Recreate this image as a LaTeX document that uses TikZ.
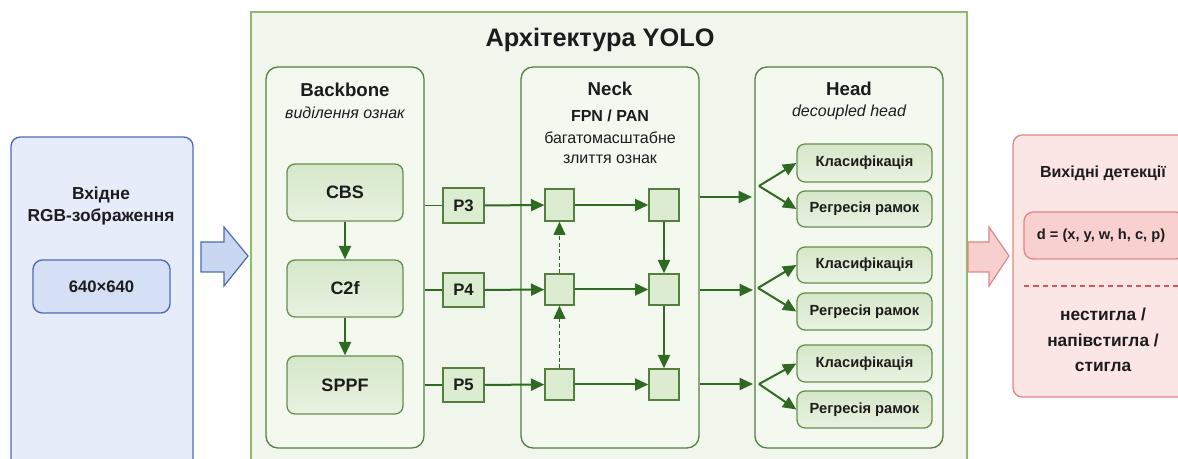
\documentclass[tikz,border=0pt]{standalone}
\usepackage{fontspec}
\setmainfont{Liberation Sans}
\usetikzlibrary{arrows.meta,fit}
\definecolor{yolofill}{HTML}{F0F6EB}
\definecolor{yololine}{HTML}{8DBA6E}
\definecolor{panelfill}{HTML}{F4F9F0}
\definecolor{panelline}{HTML}{557F3E}
\definecolor{nodetop}{HTML}{D6E7C9}
\definecolor{nodebot}{HTML}{E8F2E1}
\definecolor{nodeline}{HTML}{678F50}
\definecolor{sqfill}{HTML}{DCECD0}
\definecolor{arrcol}{HTML}{2F6A22}
\definecolor{bluefill}{HTML}{E6ECF9}
\definecolor{blueline}{HTML}{4C6DB3}
\definecolor{blueinner}{HTML}{D5DFF5}
\definecolor{bluearrow}{HTML}{C9D7F1}
\definecolor{redfill}{HTML}{FCE5E5}
\definecolor{redline}{HTML}{DE8787}
\definecolor{redinner}{HTML}{F9D0D0}
\definecolor{redarrow}{HTML}{F8CFCF}
\definecolor{reddash}{HTML}{D65555}
\definecolor{txt}{HTML}{1C1C1C}
\begin{document}
\begin{tikzpicture}[x=0.75pt,y=-0.75pt,
  every node/.style={text=txt},
  fitbox/.style={inner sep=0pt},
  yolobox/.style={fitbox,draw=yololine,fill=yolofill,line width=1.3pt},
  panel/.style={fitbox,draw=panelline,fill=panelfill,line width=1pt,rounded corners=9pt},
  block/.style={fitbox,draw=nodeline,top color=nodetop,bottom color=nodebot,line width=1pt,rounded corners=6pt},
  blocktxt/.style={font=\fontsize{13.5}{16}\selectfont\bfseries},
  pbox/.style={fitbox,draw=panelline,fill=sqfill,line width=1pt},
  ptxt/.style={font=\fontsize{12.5}{15}\selectfont\bfseries},
  sq/.style={fitbox,draw=panelline,fill=sqfill,line width=1pt},
  hbox/.style={fitbox,draw=nodeline,top color=nodetop,bottom color=nodebot,line width=1pt,rounded corners=6pt},
  htxt/.style={font=\fontsize{11}{13}\selectfont\bfseries},
  arr/.style={draw=arrcol,line width=1.5pt,-{Triangle[length=10pt,width=9pt]}},
  darr/.style={draw=arrcol,line width=1pt,dash pattern=on 3pt off 2pt,-{Triangle[length=10pt,width=9pt]}},
  plainline/.style={draw=arrcol,line width=1pt},
  ttl/.style={font=\fontsize{14}{16}\selectfont\bfseries},
  sub/.style={font=\fontsize{12}{14}\selectfont\itshape}
]
\clip (0,0) rectangle (1178,459);
\useasboundingbox (0,0) rectangle (1178,459);

% Input block
\node[fitbox,draw=blueline,fill=bluefill,line width=1pt,rounded corners=7pt,fit={(11,137) (193,480)}] (inp) {};
\node[align=center,font=\fontsize{13}{16.5}\selectfont\bfseries] (inptxt) at (101,206) {Вхідне\\RGB-зображення};
\node[fitbox,draw=blueline,fill=blueinner,line width=1pt,rounded corners=7pt,fit={(33,260) (170,313)}] (res) {};
\node[font=\fontsize{12.5}{15}\selectfont\bfseries] (restxt) at (res.center) {640×640};
\draw[draw=blueline,fill=bluearrow,line width=0.9pt,line join=miter] (201,242) -- (224,242) -- (224,227) -- (248,256) -- (224,286) -- (224,272) -- (201,272) -- cycle;

% YOLO frame
\node[yolobox,fit={(251,12) (967,480)}] (yolo) {};
\node[font=\fontsize{19}{22}\selectfont\bfseries] (title) at (600,40) {Архітектура YOLO};

% Panels
\node[panel,fit={(266,67) (424,448)}] (bb) {};
\node[panel,fit={(521,67) (699,448)}] (neck) {};
\node[panel,fit={(755,67) (943,448)}] (head) {};

\node[ttl] (bbt) at (345,90) {Backbone};
\node[sub] (bbs) at (345,113) {виділення ознак};
\node[ttl] (nt) at (610,89) {Neck};
\node[font=\fontsize{12}{14}\selectfont\bfseries] (nfp) at (610,116) {FPN / PAN};
\node[font=\fontsize{12}{14}\selectfont] (ns1) at (610,138) {багатомасштабне};
\node[font=\fontsize{12}{14}\selectfont] (ns2) at (610,159) {злиття ознак};
\node[ttl] (ht) at (849,89) {Head};
\node[sub] (hs) at (849,112) {decoupled head};

% Backbone blocks
\node[block,fit={(287,164) (403,221)}] (cbs) {};
\node[block,fit={(287,260) (403,317)}] (c2f) {};
\node[block,fit={(287,356) (403,414)}] (sppf) {};
\node[blocktxt] (cbst) at (cbs.center) {CBS};
\node[blocktxt] (c2ft) at (c2f.center) {C2f};
\node[blocktxt] (sppft) at (sppf.center) {SPPF};
\draw[arr] (cbs) -- (c2f);
\draw[arr] (c2f) -- (sppf);

% P boxes
\node[pbox,fit={(443,188) (484,223)}] (p3) {};
\node[pbox,fit={(443,273) (484,307)}] (p4) {};
\node[pbox,fit={(443,368) (484,402)}] (p5) {};
\node[ptxt] (p3t) at (p3.center) {P3};
\node[ptxt] (p4t) at (p4.center) {P4};
\node[ptxt] (p5t) at (p5.center) {P5};
\draw[plainline] (p3.west -| bb.east) -- (p3.west);
\draw[plainline] (p4.west -| bb.east) -- (p4.west);
\draw[plainline] (p5.west -| bb.east) -- (p5.west);

% Neck squares
\node[sq,fit={(545,189) (574,221)}] (l1) {};
\node[sq,fit={(545,274) (574,305)}] (l2) {};
\node[sq,fit={(545,369) (574,400)}] (l3) {};
\node[sq,fit={(649,189) (679,221)}] (r1) {};
\node[sq,fit={(649,274) (679,305)}] (r2) {};
\node[sq,fit={(649,369) (679,400)}] (r3) {};
\draw[arr] (p3) -- (l1);
\draw[arr] (p4) -- (l2);
\draw[arr] (p5) -- (l3);
\draw[arr] (l1) -- (r1);
\draw[arr] (l2) -- (r2);
\draw[arr] (l3) -- (r3);
\draw[darr] (l3) -- (l2);
\draw[darr] (l2) -- (l1);
\draw[arr] (r1) -- (r2);
\draw[arr] (r2) -- (r3);

% Head boxes
\node[hbox,fit={(797,144) (932,182)}] (k1) {};
\node[hbox,fit={(797,191) (932,227)}] (g1) {};
\node[hbox,fit={(797,247) (932,283)}] (k2) {};
\node[hbox,fit={(797,293) (932,330)}] (g2) {};
\node[hbox,fit={(797,345) (932,382)}] (k3) {};
\node[hbox,fit={(797,391) (932,428)}] (g3) {};
\node[htxt] (k1t) at (k1.center) {Класифікація};
\node[htxt] (g1t) at (g1.center) {Регресія рамок};
\node[htxt] (k2t) at (k2.center) {Класифікація};
\node[htxt] (g2t) at (g2.center) {Регресія рамок};
\node[htxt] (k3t) at (k3.center) {Класифікація};
\node[htxt] (g3t) at (g3.center) {Регресія рамок};

\coordinate (h1) at (752,197);
\coordinate (h2) at (753,290);
\coordinate (h3) at (753,384);
\coordinate (a1) at (759,186);
\coordinate (a2) at (758,288);
\coordinate (a3) at (759,384);
\draw[arr] (h1 -| neck.east) -- (h1);
\draw[arr] (h2 -| neck.east) -- (h2);
\draw[arr] (h3 -| neck.east) -- (h3);
\draw[arr] (a1) -- (k1.west);
\draw[arr] (a1) -- (g1.west);
\draw[arr] (a2) -- (k2.west);
\draw[arr] (a2) -- (g2.west);
\draw[arr] (a3) -- (k3.west);
\draw[arr] (a3) -- (g3.west);

% Output
\draw[draw=redline,fill=redarrow,line width=0.9pt,line join=miter] (968,242) -- (989,242) -- (989,227) -- (1009,256) -- (989,286) -- (989,272) -- (968,272) -- cycle;
\node[fitbox,draw=redline,fill=redfill,line width=1pt,rounded corners=7pt,fit={(1013,135) (1195,397)}] (out) {};
\node[font=\fontsize{12}{14}\selectfont\bfseries] (outt) at (1103,173) {Вихідні детекції};
\node[fitbox,draw=redline,fill=redinner,line width=1pt,rounded corners=7pt,fit={(1024,212) (1185,259)}] (dbox) {};
\node[font=\fontsize{11}{13}\selectfont\bfseries] (dtxt) at (1101,236) {d = (x, y, w, h, c, p)};
\coordinate (dl) at (1024,286);
\coordinate (dr) at (1180,286);
\draw[draw=reddash,line width=1pt,dash pattern=on 4pt off 3pt] (dl) -- (dr);
\node[align=center,font=\fontsize{13}{19}\selectfont\bfseries] (cls) at (1103,340) {нестигла /\\напівстигла /\\стигла};
\end{tikzpicture}
\end{document}
